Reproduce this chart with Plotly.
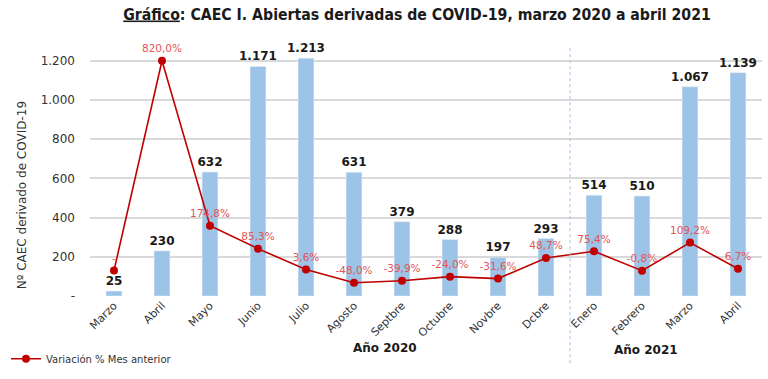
import plotly.graph_objects as go

meses = ["Marzo", "Abril", "Mayo", "Junio", "Julio", "Agosto", "Septbre", "Octubre",
         "Novbre", "Dcbre", "Enero", "Febrero", "Marzo", "Abril"]
caec = [25, 230, 632, 1171, 1213, 631, 379, 288, 197, 293, 514, 510, 1067, 1139]
variacion = [0.0, 820.0, 174.8, 85.3, 3.6, -48.0, -39.9, -24.0, -31.6, 48.7, 75.4, -0.8, 109.2, 6.7]
variacion_txt = ["-", "820,0%", "174,8%", "85,3%", "3,6%", "-48,0%", "-39,9%", "-24,0%",
                 "-31,6%", "48,7%", "75,4%", "-0,8%", "109,2%", "6,7%"]
y_ticks = [0, 200, 400, 600, 800, 1000, 1200]
y_ticktext = ["-", "200", "400", "600", "800", "1.000", "1.200"]

x = list(range(len(meses)))


def miles(v):
    return f"{v:,}".replace(",", ".")


fig = go.Figure()
fig.add_trace(go.Bar(
    x=x, y=caec, marker=dict(color="#9dc3e6"), width=0.33,
    text=[miles(v) for v in caec], textposition="outside", cliponaxis=False,
    constraintext="none",
    textfont=dict(family="DejaVu Sans", size=12, color="#1a1a1a", weight="bold"),
    showlegend=False, name="CAEC",
))
fig.add_trace(go.Scatter(
    x=x, y=variacion, yaxis="y2", mode="lines+markers+text",
    line=dict(color="#c00000", width=1.6),
    marker=dict(color="#c00000", size=8),
    text=variacion_txt, textposition="top center",
    textfont=dict(family="DejaVu Sans", size=10.5, color="#e35555"),
    cliponaxis=False,
    name="Variación % Mes anterior",
))

y_max = 1270
slope = 1.305
offset = 130
fig.update_layout(
    width=768, height=379,
    margin=dict(l=90, r=6, t=47, b=78),
    paper_bgcolor="white", plot_bgcolor="white",
    title=dict(text="<b><u>Gráfico</u>: CAEC I. Abiertas derivadas de COVID-19, marzo 2020 a abril 2021</b>",
               x=0.543, xanchor="center", y=0.963, yanchor="middle",
               font=dict(family="DejaVu Sans Condensed", size=15.7, color="#1a1a1a")),
    xaxis=dict(range=[-0.5, 13.5], tickvals=x, ticktext=meses, tickangle=-45,
               tickfont=dict(family="DejaVu Sans", size=11, color="#333333"),
               showgrid=False, showline=False, zeroline=False, ticks="", automargin=False),
    yaxis=dict(range=[0, y_max], tickvals=y_ticks, ticktext=y_ticktext, automargin=False,
               tickfont=dict(family="DejaVu Sans", size=12, color="#333333"),
               gridcolor="#d9d9d9", gridwidth=1.5, zeroline=False, ticklabelstandoff=14),
    yaxis2=dict(overlaying="y", range=[-offset / slope, (y_max - offset) / slope],
                visible=False),
    legend=dict(x=-0.125, y=-0.252, xanchor="left", yanchor="middle",
                font=dict(family="DejaVu Sans", size=10, color="#333333"),
                bgcolor="rgba(0,0,0,0)"),
    annotations=[
        dict(text="Nº CAEC derivado de COVID-19", textangle=-90, x=-0.101, y=0.405,
             xref="paper", yref="paper", xanchor="center", yanchor="middle", showarrow=False,
             font=dict(family="DejaVu Sans", size=12, color="#333333")),
        dict(text="<b>Año 2020</b>", x=0.439, y=-0.244, xref="paper", yref="paper",
             showarrow=False, font=dict(family="DejaVu Sans", size=12, color="#1a1a1a")),
        dict(text="<b>Año 2021</b>", x=0.878, y=-0.252, xref="paper", yref="paper",
             showarrow=False, font=dict(family="DejaVu Sans", size=12, color="#1a1a1a")),
    ],
    shapes=[dict(type="line", x0=9.5, x1=9.5, xref="x", y0=-0.27, y1=1.0, yref="paper",
                 line=dict(color="#9dc3e6", width=1, dash="dot"))],
)

fig.write_html("out.html", config={"displayModeBar": False},
               post_script="document.body.style.margin='0';document.body.style.overflow='hidden';")
